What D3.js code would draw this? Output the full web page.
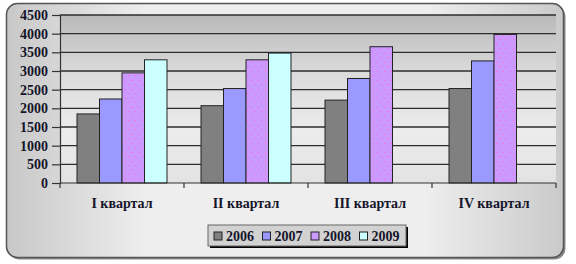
<!DOCTYPE html>
<html>
  <head>
    <script src="https://d3js.org/d3.v7.min.js"></script>
    <style>
      body { margin: 0; background: #fff; }
      svg text { font-family: "Liberation Serif", "Times New Roman", serif; font-weight: bold; fill: #15152a; }
      .axis .domain { stroke: #333; stroke-width: 1.2px; }
      .axis .tick line { stroke: #333; stroke-width: 1.2px; }
      .axis .tick text { font-size: 14px; }
      .grid line { stroke: #2e2e2e; stroke-width: 1.3px; }
      .legend text { font-size: 14px; }
    </style>
  </head>
  <body>
    <svg width="576" height="264"></svg>
    <script>
      const categories = ["I квартал", "II квартал", "III квартал", "IV квартал"];
      const years = ["2006", "2007", "2008", "2009"];
      const values2006 = [1850, 2070, 2220, 2530];
      const values2007 = [2250, 2530, 2800, 3270];
      const values2008 = [2950, 3300, 3650, 3980];
      const values2009 = [3300, 3480, null, null];
      const yTicks = [0, 500, 1000, 1500, 2000, 2500, 3000, 3500, 4000, 4500];

      const series = [values2006, values2007, values2008, values2009];
      const colors = ["#808080", "#9999ff", "url(#dots)", "#ccffff"];
      const legendColors = ["#808080", "#9999ff", "#cc99ff", "#ccffff"];

      const margin = {top: 15, right: 20, bottom: 81, left: 60};
      const svg = d3.select("svg");
      const width = +svg.attr("width");
      const height = +svg.attr("height");
      const innerWidth = width - margin.left - margin.right;
      const innerHeight = height - margin.top - margin.bottom;

      const defs = svg.append("defs");
      const frameGrad = defs.append("linearGradient").attr("id", "frameGrad");
      frameGrad.append("stop").attr("offset", "0%").attr("stop-color", "#c8c8c8");
      frameGrad.append("stop").attr("offset", "25%").attr("stop-color", "#eeeeee");
      frameGrad.append("stop").attr("offset", "75%").attr("stop-color", "#eeeeee");
      frameGrad.append("stop").attr("offset", "100%").attr("stop-color", "#cacaca");

      const plotGrad = defs.append("linearGradient").attr("id", "plotGrad")
          .attr("x1", 0).attr("y1", 0).attr("x2", 0).attr("y2", 1);
      plotGrad.append("stop").attr("offset", "0%").attr("stop-color", "#b9b9b9");
      plotGrad.append("stop").attr("offset", "35%").attr("stop-color", "#dcdcdc");
      plotGrad.append("stop").attr("offset", "70%").attr("stop-color", "#ececec");
      plotGrad.append("stop").attr("offset", "100%").attr("stop-color", "#e2e2e2");

      const dots = defs.append("pattern").attr("id", "dots")
          .attr("patternUnits", "userSpaceOnUse").attr("width", 7).attr("height", 9);
      dots.append("rect").attr("width", 7).attr("height", 9).attr("fill", "#cc99ff");
      dots.append("rect").attr("x", 2).attr("y", 2).attr("width", 1).attr("height", 1).attr("fill", "#ff66cc");
      dots.append("rect").attr("x", 5).attr("y", 6).attr("width", 1).attr("height", 1).attr("fill", "#ff66cc");

      // outer frame
      svg.append("rect")
          .attr("x", 8.5).attr("y", 5.5).attr("width", 557).attr("height", 254)
          .attr("rx", 11).attr("fill", "#8a8a8a");
      svg.append("rect")
          .attr("x", 6.5).attr("y", 3.5).attr("width", 557).attr("height", 254)
          .attr("rx", 11).attr("fill", "url(#frameGrad)")
          .attr("stroke", "#555").attr("stroke-width", 1.5);

      const x0 = d3.scaleBand().domain(categories).range([0, innerWidth]).paddingInner(0).paddingOuter(0);
      const x1 = d3.scaleBand().domain(years).range([17, x0.bandwidth() - 17]);
      const y = d3.scaleLinear().domain([0, 4500]).range([innerHeight, 0]);

      const g = svg.append("g")
          .attr("transform", `translate(${margin.left}, ${margin.top})`);

      g.append("rect")
          .attr("width", innerWidth).attr("height", innerHeight)
          .attr("fill", "url(#plotGrad)");

      g.append("g")
          .attr("class", "grid")
        .selectAll("line")
        .data(yTicks.filter(d => d > 0))
        .enter().append("line")
          .attr("x1", 0).attr("x2", innerWidth)
          .attr("y1", d => y(d)).attr("y2", d => y(d));

      const rows = [];
      categories.forEach((c, i) => {
        years.forEach((yr, j) => {
          if (series[j][i] != null) rows.push({cat: c, year: yr, j: j, value: series[j][i]});
        });
      });

      g.selectAll(".bar")
        .data(rows)
        .enter().append("rect")
          .attr("class", "bar")
          .attr("x", d => x0(d.cat) + x1(d.year))
          .attr("y", d => y(d.value))
          .attr("width", x1.bandwidth())
          .attr("height", d => innerHeight - y(d.value))
          .attr("fill", d => colors[d.j])
          .attr("stroke", "#222")
          .attr("stroke-width", 1);

      const yAxis = d3.axisLeft(y).tickValues(yTicks).tickFormat(d3.format("d"))
          .tickSize(8).tickPadding(4);
      g.append("g").attr("class", "axis")
          .attr("font-family", null).attr("font-size", null)
          .call(yAxis);

      const xAxisG = g.append("g")
          .attr("class", "axis")
          .attr("transform", `translate(0, ${innerHeight})`);
      xAxisG.append("line")
          .attr("x1", 0).attr("x2", innerWidth)
          .attr("stroke", "#333").attr("stroke-width", 1.2);
      xAxisG.selectAll(".cat-tick")
        .data(d3.range(categories.length + 1))
        .enter().append("line")
          .attr("class", "cat-tick")
          .attr("x1", d => d * x0.bandwidth()).attr("x2", d => d * x0.bandwidth())
          .attr("y1", 0).attr("y2", 5)
          .attr("stroke", "#333").attr("stroke-width", 1.2);
      xAxisG.selectAll(".cat-label")
        .data(categories)
        .enter().append("text")
          .attr("class", "cat-label")
          .attr("x", d => x0(d) + x0.bandwidth() / 2)
          .attr("y", 25)
          .attr("text-anchor", "middle")
          .style("font-size", "14px")
          .text(d => d);

      // legend
      const legendG = svg.append("g")
          .attr("class", "legend")
          .attr("transform", "translate(208, 225)");
      legendG.append("rect")
          .attr("x", 2).attr("y", 2).attr("width", 198).attr("height", 21)
          .attr("fill", "#000");
      legendG.append("rect")
          .attr("width", 198).attr("height", 21)
          .attr("fill", "#d2d2d2").attr("stroke", "#666").attr("stroke-width", 1);
      const item = legendG.selectAll(".item")
        .data(years)
        .enter().append("g")
          .attr("class", "item")
          .attr("transform", (d, i) => `translate(${6 + i * 48.5}, 0)`);
      item.append("rect")
          .attr("y", 7).attr("width", 8).attr("height", 8)
          .attr("fill", (d, i) => legendColors[i])
          .attr("stroke", "#222").attr("stroke-width", 1);
      item.append("text")
          .attr("x", 12).attr("y", 15.5)
          .text(d => d);
    </script>
  </body>
</html>
